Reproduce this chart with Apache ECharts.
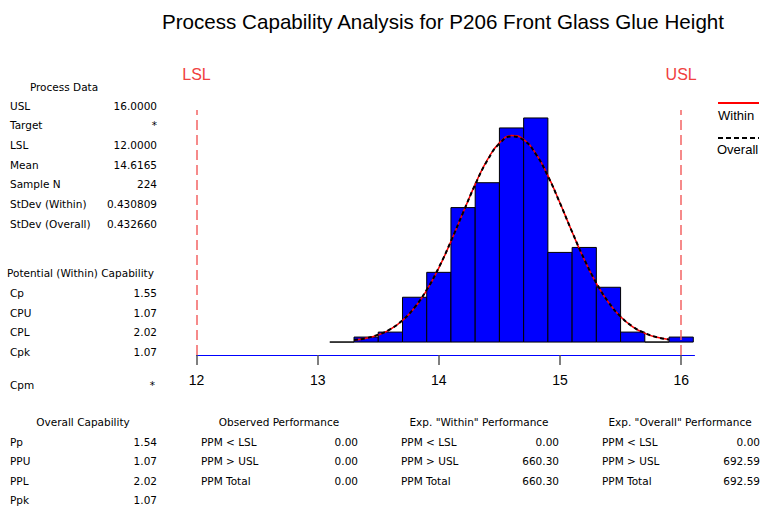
<!DOCTYPE html>
<html><head><meta charset="utf-8">
<script src="https://cdn.jsdelivr.net/npm/echarts@6/dist/echarts.min.js"></script>
<style>html,body{margin:0;padding:0;background:#fff}#c{width:763px;height:506px}</style>
</head><body><div id="c"></div>
<script>
// ---------- data ----------
const chartTitle = 'Process Capability Analysis for P206 Front Glass Glue Height';
const binEdges = [13.1, 13.3, 13.5, 13.7, 13.9, 14.1, 14.3, 14.5, 14.7, 14.9, 15.1, 15.3, 15.5, 15.7, 15.9, 16.1];
const binCounts = [0, 1, 2, 9, 14, 27, 32, 43, 45, 18, 19, 11, 2, 0, 1];
const curveX = [13.3, 13.4, 13.5, 13.6, 13.7, 13.8, 13.9, 14.0, 14.1, 14.2, 14.3, 14.4, 14.5, 14.6, 14.7, 14.8, 14.9, 15.0, 15.1, 15.2, 15.3, 15.4, 15.5, 15.6, 15.7, 15.8, 15.9];
const withinCurve = [0.39, 0.77, 1.44, 2.56, 4.32, 6.88, 10.41, 14.90, 20.22, 26.0, 31.67, 36.57, 40.0, 41.46, 40.72, 37.89, 33.41, 27.92, 22.10, 16.58, 11.78, 7.94, 5.07, 3.06, 1.75, 0.95, 0.49];
const overallCurve = [0.40, 0.79, 1.48, 2.61, 4.38, 6.96, 10.49, 14.97, 20.26, 25.99, 31.61, 36.45, 39.84, 41.28, 40.55, 37.76, 33.33, 27.89, 22.12, 16.64, 11.86, 8.01, 5.13, 3.12, 1.80, 0.98, 0.51];
const specLimits = [12, 16];
const specNames = ['LSL', 'USL'];
const tickLabels = ['12', '13', '14', '15', '16'];
const legendNames = ['Within', 'Overall'];

const processDataTitle = 'Process Data';
const processDataLabels = ['USL', 'Target', 'LSL', 'Mean', 'Sample N', 'StDev (Within)', 'StDev (Overall)'];
const processDataValues = ['16.0000', '*', '12.0000', '14.6165', '224', '0.430809', '0.432660'];
const potentialTitle = 'Potential (Within) Capability';
const potentialLabels = ['Cp', 'CPU', 'CPL', 'Cpk'];
const potentialValues = ['1.55', '1.07', '2.02', '1.07'];
const cpmLabel = 'Cpm';
const cpmValue = '*';
const overallCapTitle = 'Overall Capability';
const overallCapLabels = ['Pp', 'PPU', 'PPL', 'Ppk'];
const overallCapValues = ['1.54', '1.07', '2.02', '1.07'];
const observedTitle = 'Observed Performance';
const ppmLabels = ['PPM < LSL', 'PPM > USL', 'PPM Total'];
const observedValues = ['0.00', '0.00', '0.00'];
const expWithinTitle = 'Exp. "Within" Performance';
const expWithinValues = ['0.00', '660.30', '660.30'];
const expOverallTitle = 'Exp. "Overall" Performance';
const expOverallValues = ['0.00', '692.59', '692.59'];

// ---------- build ----------
const FONT = 'DejaVu Sans';
const FS = 10.5;
function txt(t, x, y, align, size, color, family) {
  return { type: 'text', x: x, y: y, silent: true,
    style: { text: t, align: align || 'left', verticalAlign: 'middle',
      fontSize: size || FS, fontFamily: family || FONT, fill: color || '#000' } };
}
const g = [];
function block(title, titleX, titleY, labels, values, labelX, valueX, firstY, step) {
  if (title) g.push(txt(title, titleX, titleY, 'center'));
  labels.forEach((l, i) => {
    g.push(txt(l, labelX, firstY + i * step, 'left'));
    g.push(txt(values[i], valueX, firstY + i * step, 'right'));
  });
}
block(processDataTitle, 64, 87, processDataLabels, processDataValues, 10, 157, 105.5, 19.7);
g.push(txt(potentialTitle, 7, 273, 'left'));
block(null, 0, 0, potentialLabels, potentialValues, 10, 157, 293, 19.7);
block(null, 0, 0, [cpmLabel], [cpmValue], 10, 155, 385, 20);
block(overallCapTitle, 83, 422, overallCapLabels, overallCapValues, 10, 157, 441.5, 19.6);
block(observedTitle, 279, 422, ppmLabels, observedValues, 201, 358, 441.5, 19.6);
block(expWithinTitle, 479, 422, ppmLabels, expWithinValues, 401, 559, 441.5, 19.6);
block(expOverallTitle, 680, 422, ppmLabels, expOverallValues, 602, 760, 441.5, 19.6);
// legend
g.push({ type: 'line', silent: true, shape: { x1: 718, y1: 103, x2: 759, y2: 103 }, style: { stroke: '#ff0000', lineWidth: 2 } });
g.push(txt(legendNames[0], 718, 115, 'left', 13, '#000', 'Liberation Sans'));
g.push({ type: 'line', silent: true, shape: { x1: 718, y1: 138, x2: 759, y2: 138 }, style: { stroke: '#000', lineWidth: 2, lineDash: [5, 3] } });
g.push(txt(legendNames[1], 717, 149, 'left', 13, '#000', 'Liberation Sans'));

const histData = binCounts.map((c, i) => [binEdges[i], binEdges[i + 1], c]);
const withinData = curveX.map((x, i) => [x, withinCurve[i]]);
const overallData = curveX.map((x, i) => [x, overallCurve[i]]);

const chart = echarts.init(document.getElementById('c'), null, { renderer: 'svg' });
chart.setOption({
  animation: false,
  backgroundColor: '#fff',
  title: { text: chartTitle, left: 438, top: 6, textAlign: 'center',
    textStyle: { fontFamily: 'Liberation Sans', fontSize: 20.6, fontWeight: 'normal', color: '#000' } },
  grid: { left: 196.5, right: 68.5, top: 110, bottom: 151 },
  xAxis: {
    type: 'value', min: 12, max: 16.11, interval: 1,
    axisLine: { show: true, onZero: false, lineStyle: { color: '#0000ff', width: 1 } },
    axisTick: { show: true, inside: false, length: 10, lineStyle: { color: '#555', width: 1.5 } },
    axisLabel: { showMaxLabel: false, margin: 18, fontFamily: 'Liberation Sans', fontSize: 14, color: '#000',
      formatter: function (v) { const i = Math.round(v - 12); return tickLabels[i] !== undefined && Math.abs(v - Math.round(v)) < 1e-6 ? tickLabels[i] : ''; } },
    splitLine: { show: false }
  },
  yAxis: { type: 'value', min: -2.6, max: 46.6, show: false, splitLine: { show: false } },
  series: [
    {
      type: 'custom', name: 'hist', data: histData, z: 2,
      renderItem: function (params, api) {
        const p0 = api.coord([api.value(0), api.value(2)]);
        const p1 = api.coord([api.value(1), 0]);
        return { type: 'rect', shape: { x: p0[0], y: p0[1], width: p1[0] - p0[0], height: p1[1] - p0[1] },
          style: { fill: '#0000ff', stroke: '#000', lineWidth: 1 } };
      },
      encode: { x: [0, 1], y: 2 }
    },
    {
      type: 'line', name: legendNames[0], data: withinData, smooth: true, showSymbol: false, z: 3,
      lineStyle: { color: '#ff0000', width: 1.5 },
      markLine: {
        silent: true, symbol: ['none', 'none'],
        lineStyle: { color: '#f46464', type: [10, 5], width: 1.5 },
        label: { show: true, position: 'end', distance: 28, color: '#f04040', fontSize: 16, fontFamily: 'Liberation Sans',
          formatter: function (p) { return p.name; } },
        data: specLimits.map((v, i) => [{ name: specNames[i], coord: [v, -2.6] }, { coord: [v, 46.6] }])
      }
    },
    {
      type: 'line', name: legendNames[1], data: overallData, smooth: true, showSymbol: false, z: 4,
      lineStyle: { color: '#000', width: 2, type: [4, 3] }
    }
  ],
  graphic: g
});
</script></body></html>
